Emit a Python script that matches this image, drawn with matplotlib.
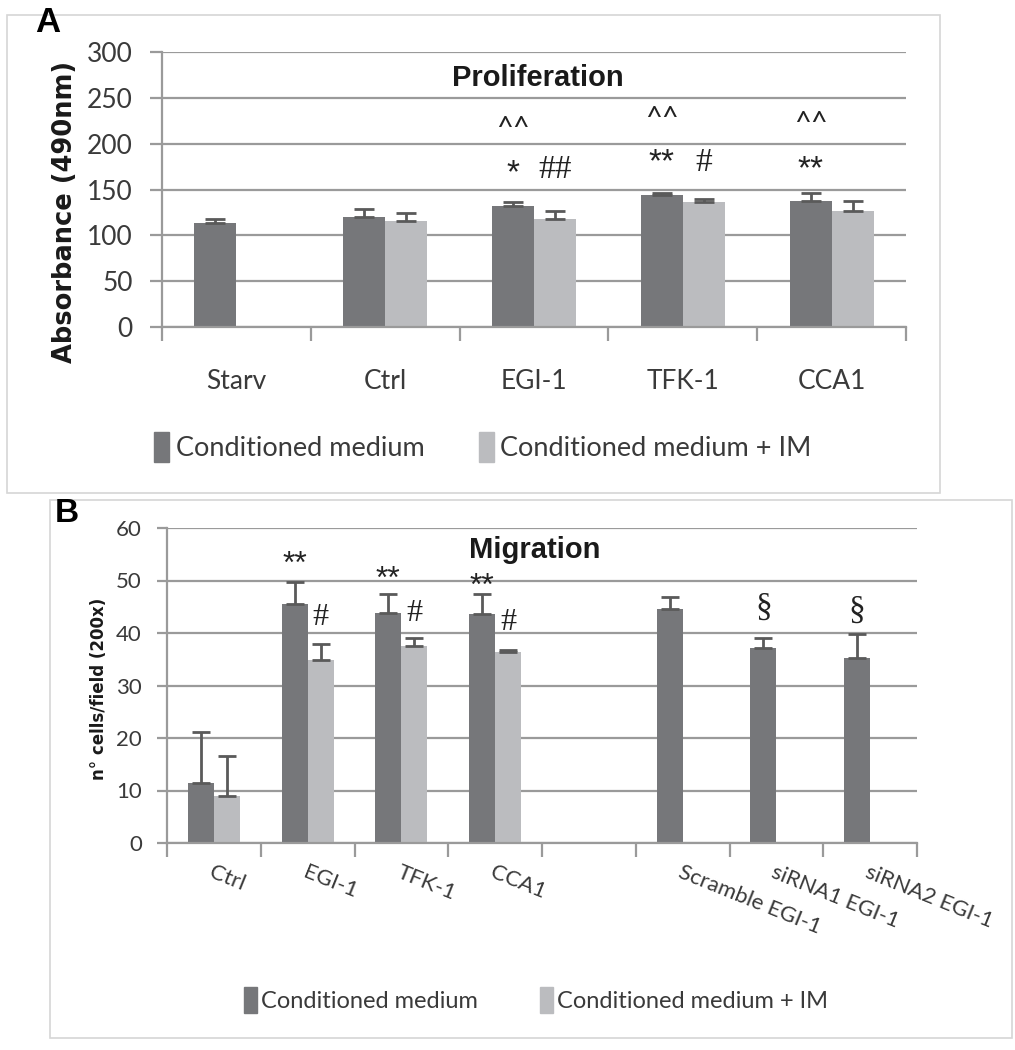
import numpy as np
import matplotlib
matplotlib.use("Agg")
import matplotlib.pyplot as plt
from matplotlib.patches import Rectangle, Patch
from matplotlib.transforms import blended_transform_factory

plt.rcParams['font.family'] = ['Lato', 'DejaVu Sans']

# ---------------- data ----------------
series_names = ["Conditioned medium", "Conditioned medium + IM"]

prolif_categories = ["Starv", "Ctrl", "EGI-1", "TFK-1", "CCA1"]
prolif_cm = [113, 120, 132, 143.5, 138]
prolif_cm_err = [5, 9, 4, 3, 8.5]
prolif_cm_im = [np.nan, 116, 118, 136, 126.5]
prolif_cm_im_err = [np.nan, 8, 9, 4, 11.5]
prolif_yticks = [0, 50, 100, 150, 200, 250, 300]
# (category index, series index, y value, mark)
prolif_marks = [(2, 0, 216, "^^"), (2, 0, 179, "*"), (2, 1, 171, "##"),
                (3, 0, 227, "^^"), (3, 0, 191, "**"), (3, 1, 179, "#"),
                (4, 0, 221, "^^"), (4, 0, 184, "**")]

migr_categories = ["Ctrl", "EGI-1", "TFK-1", "CCA1", "",
                   "Scramble EGI-1", "siRNA1 EGI-1", "siRNA2 EGI-1"]
migr_cm = [11.4, 45.5, 43.9, 43.6, np.nan, 44.6, 37.1, 35.3]
migr_cm_err = [9.8, 4.2, 3.5, 3.8, np.nan, 2.3, 2.0, 4.5]
migr_cm_im = [9.0, 34.9, 37.6, 36.4, np.nan, np.nan, np.nan, np.nan]
migr_cm_im_err = [7.6, 3.0, 1.4, 0.4, np.nan, np.nan, np.nan, np.nan]
migr_yticks = [0, 10, 20, 30, 40, 50, 60]
migr_marks = [(1, 0, 54.9, "**"), (1, 1, 43.0, "#"),
              (2, 0, 52.2, "**"), (2, 1, 43.8, "#"),
              (3, 0, 50.7, "**"), (3, 1, 42.0, "#"),
              (6, 0, 44.8, "§"), (7, 0, 44.2, "§")]

# ---------------- style ----------------
DARK = "#76777a"
LIGHT = "#bbbcbf"
GRID = "#9a9a9a"
TXT = "#3a3a3a"
ERR = "#5a5a5a"

fig = plt.figure(figsize=(10.15, 10.5), dpi=100)
W, H = 1015, 1050

def fr(x0, y0, x1, y1):
    return [x0 / W, 1 - y1 / H, (x1 - x0) / W, (y1 - y0) / H]

# panel frames
fig.add_artist(Rectangle((7 / W, 1 - 493 / H), (940 - 7) / W, (493 - 15) / H,
                         transform=fig.transFigure, fill=False, ec="#d6d6d6", lw=1.2))
fig.add_artist(Rectangle((50 / W, 1 - 1038 / H), (1012 - 50) / W, (1038 - 500) / H,
                         transform=fig.transFigure, fill=False, ec="#d6d6d6", lw=1.2))


def style_axes(ax, ncat, yticks, ysize, ytick_len, ypad, xtick_len):
    ax.set_xlim(-0.5, ncat - 0.5)
    ax.set_ylim(yticks[0], yticks[-1])
    ax.set_yticks(yticks)
    ax.yaxis.grid(True, color=GRID, lw=1.6)
    ax.set_axisbelow(True)
    for s in ["top", "right"]:
        ax.spines[s].set_visible(False)
    for s in ["left", "bottom"]:
        ax.spines[s].set_color(GRID)
        ax.spines[s].set_linewidth(1.6)
    ax.tick_params(axis="y", length=ytick_len, width=1.6, color=GRID,
                   labelsize=ysize, labelcolor=TXT, pad=ypad)
    ax.set_xticks(np.arange(ncat + 1) - 0.5)
    ax.tick_params(axis="x", which="major", length=xtick_len, width=1.6,
                   color=GRID, labelbottom=False)
    ax.set_xticks(np.arange(ncat), minor=True)
    ax.tick_params(axis="x", which="minor", length=0)


def draw_bars(ax, cm, cm_err, im, im_err, bw, capsize, elw):
    x = np.arange(len(cm))
    ax.bar(x - bw / 2, cm, bw, color=DARK, zorder=2)
    ax.bar(x + bw / 2, im, bw, color=LIGHT, zorder=2)
    zeros = np.zeros(len(cm))
    ax.errorbar(x - bw / 2, cm, yerr=[zeros, cm_err], fmt="none", ecolor=ERR,
                elinewidth=elw, capsize=capsize, capthick=elw, zorder=3)
    ax.errorbar(x + bw / 2, im, yerr=[zeros, im_err], fmt="none", ecolor=ERR,
                elinewidth=elw, capsize=capsize, capthick=elw, zorder=3)


def draw_marks(ax, marks, bw, size):
    for ci, si, yv, txt in marks:
        xx = ci - bw / 2 if si == 0 else ci + bw / 2
        if txt.startswith("*"):
            fs = size * 1.15
            ax.annotate(txt, (xx, yv), xytext=(0, -0.58 * fs),
                        textcoords="offset points", ha="center", va="baseline",
                        fontsize=fs, family=["Liberation Sans", "DejaVu Sans"],
                        color="#222222", zorder=4)
            continue
        fs = size
        if txt == "§":
            fam = ["Liberation Serif", "DejaVu Serif"]
            fs = size * 1.2
        elif txt.startswith("#"):
            fam = ["Liberation Serif", "DejaVu Serif"]
            fs = size * 1.15
        else:
            fam = ["Lato", "DejaVu Sans"]
        ax.text(xx, yv, txt, ha="center", va="center", fontsize=fs,
                family=fam, color="#222222", zorder=4)


# ---------------- panel A ----------------
ax1 = fig.add_axes(fr(162, 52, 906, 327))
bw1 = 0.282
style_axes(ax1, len(prolif_categories), prolif_yticks, 19, 9, 12, 10)
ax1.set_xticklabels(prolif_categories, minor=True)
ax1.tick_params(axis="x", which="minor", labelsize=19, labelcolor=TXT, pad=30)
draw_bars(ax1, prolif_cm, prolif_cm_err, prolif_cm_im, prolif_cm_im_err, bw1, 7, 2.0)
draw_marks(ax1, prolif_marks, bw1, 21)
ax1.text(0.505, 0.905, "Proliferation", transform=ax1.transAxes, ha="center",
         va="center", fontsize=21, fontweight="bold",
         family=["Liberation Sans", "DejaVu Sans"], color="#1a1a1a")
ax1.set_ylabel("Absorbance (490nm)", fontsize=18.5, fontweight="bold",
               family=["DejaVu Sans"], color="#1a1a1a")
ax1.yaxis.set_label_coords(-0.113, 0.418)
fig.text(35 / W, 1 - 23 / H, "A", fontsize=25, fontweight="bold",
         family=["Liberation Sans", "DejaVu Sans"], va="center", ha="left")

leg1 = fig.legend(handles=[Patch(color=DARK), Patch(color=LIGHT)],
                  labels=series_names, loc="center",
                  bbox_to_anchor=(483 / W, 1 - 447 / H), ncol=2, frameon=False,
                  fontsize=19.5, handlelength=0.55, handleheight=1.3,
                  handletextpad=0.25, columnspacing=2.0, labelcolor=TXT)

# ---------------- panel B ----------------
ax2 = fig.add_axes(fr(167, 528, 917, 843))
bw2 = 0.277
style_axes(ax2, len(migr_categories), migr_yticks, 16, 7, 11, 10)
ax2.set_xticklabels([""] * len(migr_categories), minor=True)
tr = blended_transform_factory(ax2.transData, ax2.transAxes)
for i, lab in enumerate(migr_categories):
    ax2.text(i, -0.06, lab, transform=tr, rotation=-22, rotation_mode="anchor",
             ha="left", va="top", fontsize=16, color=TXT)
draw_bars(ax2, migr_cm, migr_cm_err, migr_cm_im, migr_cm_im_err, bw2, 6.5, 2.0)
draw_marks(ax2, migr_marks, bw2, 20)
ax2.text(0.49, 0.93, "Migration", transform=ax2.transAxes, ha="center",
         va="center", fontsize=21, fontweight="bold",
         family=["Liberation Sans", "DejaVu Sans"], color="#1a1a1a")
ax2.set_ylabel("n° cells/field (200x)", fontsize=12, fontweight="bold",
               family=["DejaVu Sans"], color="#1a1a1a")
ax2.yaxis.set_label_coords(-0.079, 0.489)
fig.text(55 / W, 1 - 514 / H, "B", fontsize=24, fontweight="bold",
         family=["Liberation Sans", "DejaVu Sans"], va="center", ha="left")

leg2 = fig.legend(handles=[Patch(color=DARK), Patch(color=LIGHT)],
                  labels=series_names, loc="center",
                  bbox_to_anchor=(536 / W, 1 - 1000 / H), ncol=2, frameon=False,
                  fontsize=17, handlelength=0.55, handleheight=1.3,
                  handletextpad=0.2, columnspacing=2.6, labelcolor=TXT)

fig.savefig("out.png", dpi=100)
